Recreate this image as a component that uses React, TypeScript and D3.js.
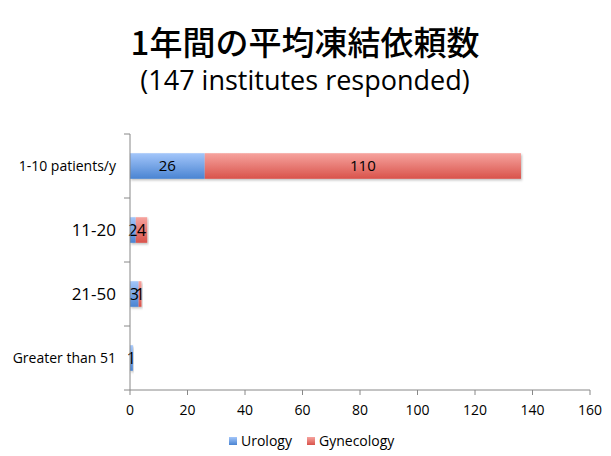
import React from "react";
import * as d3 from "d3";

const categories = ["1-10 patients/y", "11-20", "21-50", "Greater than 51"];
const labelSizes = [14, 17, 17, 14];
const urology = [26, 2, 3, 1];
const gynecology = [110, 4, 1, 0];
const xTicks = [0, 20, 40, 60, 80, 100, 120, 140, 160];
const seriesNames = ["Urology", "Gynecology"];

export default function App() {
  const W = 611, H = 456;
  const left = 130, right = 590, top = 134, bottom = 390;
  const x = d3.scaleLinear().domain([0, 160]).range([left, right]);
  const y = d3.scaleBand().domain(categories).range([top, bottom]).paddingInner(0.6).paddingOuter(0.3);
  const band = (bottom - top) / categories.length;
  const font = "'Open Sans', 'Noto Sans', sans-serif";
  const stacked = categories.map((c, i) => {
    const u0 = 0, u1 = urology[i], g0 = u1, g1 = u1 + gynecology[i];
    return { c, i, u0, u1, g0, g1 };
  });
  return (
    <svg width={W} height={H} style={{ position: "absolute", left: 0, top: 0, background: "#fff" }}>
      <defs>
        <linearGradient id="gBlue" x1="0" y1="0" x2="0" y2="1">
          <stop offset="0" stopColor="#a3c6fa" />
          <stop offset="1" stopColor="#4a84d2" />
        </linearGradient>
        <linearGradient id="gRed" x1="0" y1="0" x2="0" y2="1">
          <stop offset="0" stopColor="#f6a39e" />
          <stop offset="1" stopColor="#d9534b" />
        </linearGradient>
        <filter id="shadow" x="-5%" y="-20%" width="110%" height="160%">
          <feDropShadow dx="1" dy="1.5" stdDeviation="1.2" floodColor="#000" floodOpacity="0.25" />
        </filter>
      </defs>
      <text x={305} y={55} textAnchor="middle" fontSize={33} fontFamily="'Noto Sans CJK JP', sans-serif" fontWeight={500} fill="#000">
        1年間の平均凍結依頼数
      </text>
      <text x={305} y={90} textAnchor="middle" fontSize={27} fontFamily={font} fill="#000">
        (147 institutes responded)
      </text>
      {stacked.map((d) => {
        const yy = y(d.c)!;
        const h = y.bandwidth();
        return (
          <g key={d.c} filter="url(#shadow)">
            {d.u1 > d.u0 && (
              <rect x={x(d.u0)} y={yy} width={x(d.u1) - x(d.u0)} height={h} fill="url(#gBlue)" />
            )}
            {d.g1 > d.g0 && (
              <rect x={x(d.g0)} y={yy} width={x(d.g1) - x(d.g0)} height={h} fill="url(#gRed)" />
            )}
          </g>
        );
      })}
      {stacked.map((d) => {
        const yy = y(d.c)! + y.bandwidth() / 2;
        const fs = d.i === 0 ? 15 : 16;
        return (
          <g key={d.c + "l"} fontFamily={font} fontSize={fs} fill="#000" textAnchor="middle">
            {d.u1 > 0 && <text x={(x(d.u0) + x(d.u1)) / 2} y={yy} dy="0.36em">{urology[d.i]}</text>}
            {gynecology[d.i] > 0 && <text x={(x(d.g0) + x(d.g1)) / 2} y={yy} dy="0.36em">{gynecology[d.i]}</text>}
          </g>
        );
      })}
      <line x1={left} x2={left} y1={top} y2={bottom} stroke="#888" strokeWidth={1} />
      {d3.range(categories.length + 1).map((k) => (
        <line key={k} x1={left - 6} x2={left} y1={top + k * band} y2={top + k * band} stroke="#888" />
      ))}
      {categories.map((c, i) => (
        <text key={c} x={116} y={y(c)! + y.bandwidth() / 2} dy="0.36em" textAnchor="end" fontFamily={font} fontSize={labelSizes[i]} fill="#000">
          {c}
        </text>
      ))}
      <line x1={left} x2={right} y1={bottom} y2={bottom} stroke="#888" />
      {xTicks.map((t) => (
        <g key={t}>
          <line x1={x(t)} x2={x(t)} y1={bottom} y2={bottom + 5} stroke="#888" />
          <text x={x(t)} y={415} textAnchor="middle" fontFamily={font} fontSize={14} fill="#000">{t}</text>
        </g>
      ))}
      <g fontFamily={font} fontSize={14} fill="#000">
        <rect x={229} y={437} width={8} height={8} fill="url(#gBlue)" />
        <text x={241} y={446}>{seriesNames[0]}</text>
        <rect x={307} y={437} width={8} height={8} fill="url(#gRed)" />
        <text x={319} y={446}>{seriesNames[1]}</text>
      </g>
    </svg>
  );
}
